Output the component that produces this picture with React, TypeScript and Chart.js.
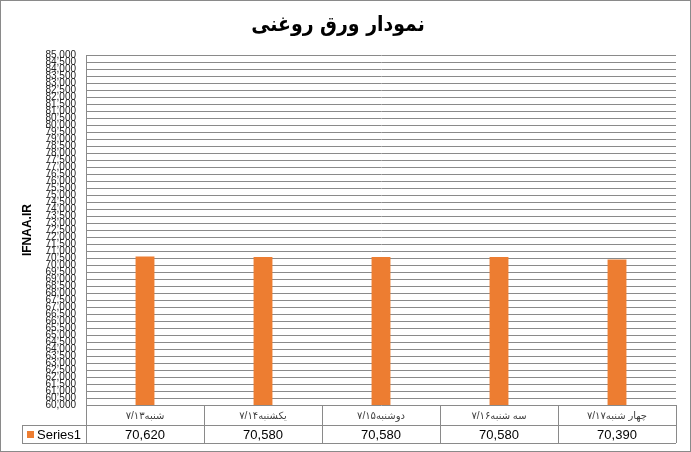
import { useEffect, useRef } from "react";
import Chart from "chart.js/auto";

// روزهای هفته (تاریخ شمسی) و قیمت ورق روغنی
const DAYS = [
  "شنبه۷/۱۳",
  "یکشنبه۷/۱۴",
  "دوشنبه۷/۱۵",
  "سه شنبه۷/۱۶",
  "چهار شنبه۷/۱۷",
];
const PRICES = [70620, 70580, 70580, 70580, 70390];
const SERIES_NAME = "Series1";
const Y_MIN = 60000;
const Y_MAX = 85000;
const Y_STEP = 500;

const BAR_COLOR = "#ED7D31";
const LINE_COLOR = "#8a8a8a";
const FONT = "'Liberation Sans', Arial, 'DejaVu Sans', sans-serif";

const fmt = (v: number) => v.toLocaleString("en-US");

// Excel-style data table under the plot, plus the outer chart border.
const dataTablePlugin = {
  id: "dataTable",
  afterDraw(chart: any) {
    const { ctx, chartArea: area } = chart;
    const x = chart.scales.x;
    const n = chart.data.labels.length;
    const cellW = (x.right - x.left) / n;
    const rowTop = area.bottom;
    const rowMid = x.bottom;
    const rowBot = rowMid + 18;
    const legendLeft = 22;

    ctx.save();
    ctx.strokeStyle = LINE_COLOR;
    ctx.lineWidth = 1;
    ctx.beginPath();
    ctx.moveTo(legendLeft, rowMid + 0.5);
    ctx.lineTo(x.right, rowMid + 0.5);
    ctx.moveTo(legendLeft, rowBot + 0.5);
    ctx.lineTo(x.right, rowBot + 0.5);
    ctx.moveTo(legendLeft + 0.5, rowMid);
    ctx.lineTo(legendLeft + 0.5, rowBot);
    for (let i = 0; i <= n; i++) {
      const bx = Math.round(x.getPixelForTick(Math.min(i, n - 1)) + (i === n ? cellW / 2 : -cellW / 2)) + 0.5;
      ctx.moveTo(bx, rowTop);
      ctx.lineTo(bx, rowBot);
    }
    ctx.stroke();

    // outer border
    ctx.strokeRect(0.5, 0.5, chart.width - 1, chart.height - 1);

    // legend key + name
    const midY = (rowMid + rowBot) / 2 + 1;
    ctx.fillStyle = BAR_COLOR;
    ctx.fillRect(legendLeft + 5, midY - 4, 7, 7);
    ctx.fillStyle = "#000";
    ctx.font = `13px ${FONT}`;
    ctx.textBaseline = "middle";
    ctx.textAlign = "left";
    ctx.fillText(SERIES_NAME, legendLeft + 15, midY);

    // values
    ctx.textAlign = "center";
    const values = chart.data.datasets[0].data as number[];
    values.forEach((v, i) => {
      ctx.fillText(fmt(v), x.getPixelForTick(i), midY);
    });
    ctx.restore();
  },
};

export default function App() {
  const canvasRef = useRef<HTMLCanvasElement>(null);
  const chartRef = useRef<Chart | null>(null);

  useEffect(() => {
    if (!canvasRef.current) return;
    chartRef.current?.destroy();

    chartRef.current = new Chart(canvasRef.current, {
      type: "bar",
      data: {
        labels: DAYS,
        datasets: [
          {
            label: SERIES_NAME,
            data: PRICES,
            backgroundColor: BAR_COLOR,
            borderWidth: 0,
            barPercentage: 0.16,
            categoryPercentage: 1,
          },
        ],
      },
      options: {
        animation: false,
        responsive: true,
        maintainAspectRatio: false,
        layout: { padding: { left: 0, right: 15, top: 0, bottom: 27 } },
        plugins: {
          legend: { display: false },
          tooltip: { enabled: false },
          title: {
            display: true,
            text: "نمودار ورق روغنی",
            color: "#000",
            font: { family: "'DejaVu Sans Condensed', 'DejaVu Sans', sans-serif", size: 21, weight: "bold" },
            padding: { top: 13, bottom: 17 },
          },
        },
        scales: {
          x: {
            grid: { display: false, drawTicks: false },
            border: { display: false },
            ticks: {
              color: "#404040",
              font: { family: FONT, size: 10 },
              padding: 5,
              maxRotation: 0,
              autoSkip: false,
            },
            afterFit: (scale: any) => {
              scale.height = 20;
            },
          },
          y: {
            min: Y_MIN,
            max: Y_MAX,
            grid: { color: LINE_COLOR, drawTicks: false },
            border: { display: true, color: LINE_COLOR },
            ticks: {
              stepSize: Y_STEP,
              autoSkip: false,
              color: "#222",
              padding: 10,
              font: { family: FONT, size: 10 },
              callback: (v: any) => fmt(Number(v)),
            },
            title: {
              display: true,
              text: "IFNAA.IR",
              color: "#000",
              font: { family: FONT, size: 12, weight: "bold" },
              padding: { top: 20, bottom: 0 },
            },
            afterFit: (scale: any) => {
              scale.width = 86;
            },
          },
        },
      },
      plugins: [dataTablePlugin],
    });

    return () => {
      chartRef.current?.destroy();
      chartRef.current = null;
    };
  }, []);

  return (
    <div style={{ position: "absolute", left: 0, top: 0, width: 691, height: 452, background: "#fff" }}>
      <canvas ref={canvasRef} role="img" aria-label="نمودار ورق روغنی"></canvas>
    </div>
  );
}
